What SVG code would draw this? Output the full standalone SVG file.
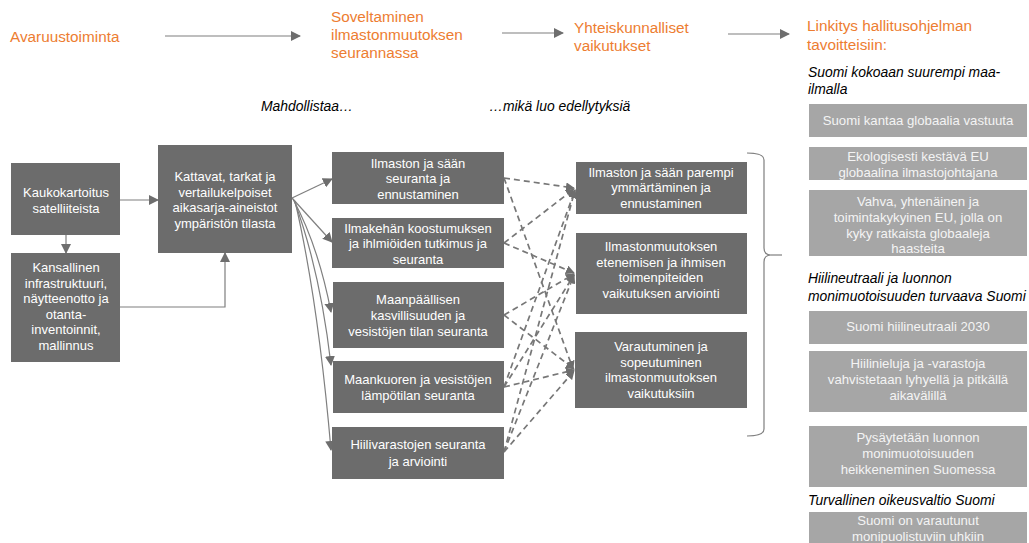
<svg xmlns="http://www.w3.org/2000/svg" width="1029" height="543" viewBox="0 0 1029 543">
<defs>
<style>
.hd{font-family:"Liberation Sans",Arial,sans-serif;font-size:15.3px;fill:#ed7d31}
.it{font-family:"Liberation Sans",Arial,sans-serif;font-size:13.9px;font-style:italic;fill:#000}
.bx{fill:#6c6c6c}
.lb{fill:#a6a6a6}
.t{font-family:"Liberation Sans",Arial,sans-serif;font-size:13px;fill:#fff;text-anchor:middle}
.tl{font-family:"Liberation Sans",Arial,sans-serif;font-size:13.2px;fill:#f4f4f4;text-anchor:middle}
.ln{fill:none;stroke:#7f7f7f;stroke-width:1.2}
.dl{fill:none;stroke:#777;stroke-width:1.7;stroke-dasharray:6,4}
</style>
<marker id="ah" viewBox="0 0 10 10" refX="9" refY="5" markerWidth="10" markerHeight="10" markerUnits="userSpaceOnUse" orient="auto">
<path d="M0,0 L10,5 L0,10 z" fill="#6e6e6e"/>
</marker>
<marker id="ahd" viewBox="0 0 10 10" refX="9" refY="5" markerWidth="9" markerHeight="9" markerUnits="userSpaceOnUse" orient="auto">
<path d="M0,0 L10,5 L0,10 z" fill="#6e6e6e"/>
</marker>
</defs>
<rect width="1029" height="543" fill="#fff"/>

<g id="headers">
<text class="hd" x="10" y="42">Avaruustoiminta</text>
<text class="hd" x="331" y="22">Soveltaminen</text>
<text class="hd" x="331" y="40">ilmastonmuutoksen</text>
<text class="hd" x="331" y="58">seurannassa</text>
<text class="hd" x="574" y="33">Yhteiskunnalliset</text>
<text class="hd" x="574" y="51">vaikutukset</text>
<text class="hd" x="807" y="31">Linkitys hallitusohjelman</text>
<text class="hd" x="807" y="50">tavoitteisiin:</text>
<text class="it" x="261" y="111">Mahdollistaa…</text>
<text class="it" x="489" y="111">…mikä luo edellytyksiä</text>
<text class="it" x="808" y="77">Suomi kokoaan suurempi maa-</text>
<text class="it" x="808" y="94">ilmalla</text>
<text class="it" x="808" y="283">Hiilineutraali ja luonnon</text>
<text class="it" x="808" y="301">monimuotoisuuden turvaava Suomi</text>
<text class="it" x="808" y="505">Turvallinen oikeusvaltio Suomi</text>
</g>

<g id="connectors">
<path class="ln" d="M165,36 H300" marker-end="url(#ah)"/>
<path class="ln" d="M502,33 H563" marker-end="url(#ah)"/>
<path class="ln" d="M728,34 H789" marker-end="url(#ah)"/>
<path class="ln" d="M120,200 H158" marker-end="url(#ah)"/>
<path class="ln" d="M66,235 V253" marker-end="url(#ah)"/>
<path class="ln" d="M120,307 H225 V253" marker-end="url(#ah)"/>
<path class="ln" d="M292,198 L332,179" marker-end="url(#ah)"/>
<path class="ln" d="M292,198 L332,242" marker-end="url(#ah)"/>
<path class="ln" d="M293,199 Q318,245 331,312" marker-end="url(#ah)"/>
<path class="ln" d="M294,200 Q320,270 331,365" marker-end="url(#ah)"/>
<path class="ln" d="M295,201 Q318,300 331,450" marker-end="url(#ah)"/>
<path class="dl" d="M504,178 L574,188" marker-end="url(#ahd)"/>
<path class="dl" d="M504,178 L573,369" marker-end="url(#ahd)"/>
<path class="dl" d="M504,243 L574,189" marker-end="url(#ahd)"/>
<path class="dl" d="M504,243 L574,273" marker-end="url(#ahd)"/>
<path class="dl" d="M504,315 L574,274" marker-end="url(#ahd)"/>
<path class="dl" d="M504,315 L574,369" marker-end="url(#ahd)"/>
<path class="dl" d="M504,387 L575,190" marker-end="url(#ahd)"/>
<path class="dl" d="M504,387 L574,275" marker-end="url(#ahd)"/>
<path class="dl" d="M504,387 L574,370" marker-end="url(#ahd)"/>
<path class="dl" d="M504,452 L575,190" marker-end="url(#ahd)"/>
<path class="dl" d="M504,452 L574,275" marker-end="url(#ahd)"/>
<path class="dl" d="M504,452 L574,371" marker-end="url(#ahd)"/>
<path class="ln" d="M747,153 Q764,153 764,160 V248 Q764,255 771,255 Q764,255 764,262 V429 Q764,436 747,436"/>
<path class="ln" d="M771,255 H782"/>
</g>

<g id="n-kaukokartoitus">
<rect class="bx" x="11" y="163" width="109" height="72"/>
<text class="t" x="66" y="197">Kaukokartoitus</text>
<text class="t" x="66" y="213">satelliiteista</text>
</g>
<g id="n-kansallinen">
<rect class="bx" x="11" y="253" width="109" height="109"/>
<text class="t" x="66" y="272">Kansallinen</text>
<text class="t" x="66" y="288">infrastruktuuri,</text>
<text class="t" x="66" y="303">näytteenotto ja</text>
<text class="t" x="66" y="319">otanta-</text>
<text class="t" x="66" y="334">inventoinnit,</text>
<text class="t" x="66" y="350">mallinnus</text>
</g>
<g id="n-kattavat">
<rect class="bx" x="158" y="145" width="134" height="108"/>
<text class="t" x="225" y="181">Kattavat, tarkat ja</text>
<text class="t" x="225" y="197">vertailukelpoiset</text>
<text class="t" x="225" y="212">aikasarja-aineistot</text>
<text class="t" x="225" y="228">ympäristön tilasta</text>
</g>

<g id="n-m1">
<rect class="bx" x="332" y="152" width="172" height="52"/>
<text class="t" x="418" y="168">Ilmaston ja sään</text>
<text class="t" x="418" y="183">seuranta ja</text>
<text class="t" x="418" y="199">ennustaminen</text>
</g>
<g id="n-m2">
<rect class="bx" x="332" y="218" width="172" height="50"/>
<text class="t" x="418" y="233">Ilmakehän koostumuksen</text>
<text class="t" x="418" y="248">ja ihlmiöiden tutkimus ja</text>
<text class="t" x="418" y="264">seuranta</text>
</g>
<g id="n-m3">
<rect class="bx" x="333" y="282" width="171" height="66"/>
<text class="t" x="418" y="304">Maanpäällisen</text>
<text class="t" x="418" y="320">kasvillisuuden ja</text>
<text class="t" x="418" y="336">vesistöjen tilan seuranta</text>
</g>
<g id="n-m4">
<rect class="bx" x="333" y="361" width="171" height="52"/>
<text class="t" x="418" y="384">Maankuoren ja vesistöjen</text>
<text class="t" x="418" y="400">lämpötilan seuranta</text>
</g>
<g id="n-m5">
<rect class="bx" x="332" y="427" width="172" height="52"/>
<text class="t" x="418" y="449">Hiilivarastojen seuranta</text>
<text class="t" x="418" y="466">ja arviointi</text>
</g>

<g id="n-r1">
<rect class="bx" x="576" y="162" width="171" height="52"/>
<text class="t" x="661" y="177">Ilmaston ja sään parempi</text>
<text class="t" x="661" y="192">ymmärtäminen ja</text>
<text class="t" x="661" y="208">ennustaminen</text>
</g>
<g id="n-r2">
<rect class="bx" x="576" y="233" width="171" height="81"/>
<text class="t" x="661" y="251">Ilmastonmuutoksen</text>
<text class="t" x="661" y="267">etenemisen ja ihmisen</text>
<text class="t" x="661" y="282">toimenpiteiden</text>
<text class="t" x="661" y="298">vaikutuksen arviointi</text>
</g>
<g id="n-r3">
<rect class="bx" x="575" y="332" width="172" height="76"/>
<text class="t" x="661" y="351">Varautuminen ja</text>
<text class="t" x="661" y="367">sopeutuminen</text>
<text class="t" x="661" y="382">ilmastonmuutoksen</text>
<text class="t" x="661" y="398">vaikutuksiin</text>
</g>

<g id="n-g1">
<rect class="lb" x="809" y="104" width="218" height="33"/>
<text class="tl" x="918" y="125">Suomi kantaa globaalia vastuuta</text>
</g>
<g id="n-g2">
<rect class="lb" x="809" y="147" width="218" height="33"/>
<text class="tl" x="918" y="161">Ekologisesti kestävä EU</text>
<text class="tl" x="918" y="177">globaalina ilmastojohtajana</text>
</g>
<g id="n-g3">
<rect class="lb" x="809" y="190" width="218" height="66"/>
<text class="tl" x="918" y="206">Vahva, yhtenäinen ja</text>
<text class="tl" x="918" y="222">toimintakykyinen EU, jolla on</text>
<text class="tl" x="918" y="238">kyky ratkaista globaaleja</text>
<text class="tl" x="918" y="253">haasteita</text>
</g>
<g id="n-g4">
<rect class="lb" x="809" y="311" width="218" height="33"/>
<text class="tl" x="918" y="331">Suomi hiilineutraali 2030</text>
</g>
<g id="n-g5">
<rect class="lb" x="809" y="351" width="218" height="61"/>
<text class="tl" x="918" y="368">Hiilinieluja ja -varastoja</text>
<text class="tl" x="918" y="384">vahvistetaan lyhyellä ja pitkällä</text>
<text class="tl" x="918" y="400">aikavälillä</text>
</g>
<g id="n-g6">
<rect class="lb" x="809" y="426" width="218" height="61"/>
<text class="tl" x="918" y="442">Pysäytetään luonnon</text>
<text class="tl" x="918" y="458">monimuotoisuuden</text>
<text class="tl" x="918" y="474">heikkeneminen Suomessa</text>
</g>
<g id="n-g7">
<rect class="lb" x="809" y="512" width="218" height="33"/>
<text class="tl" x="918" y="525">Suomi on varautunut</text>
<text class="tl" x="918" y="541">monipuolistuviin uhkiin</text>
</g>
</svg>
